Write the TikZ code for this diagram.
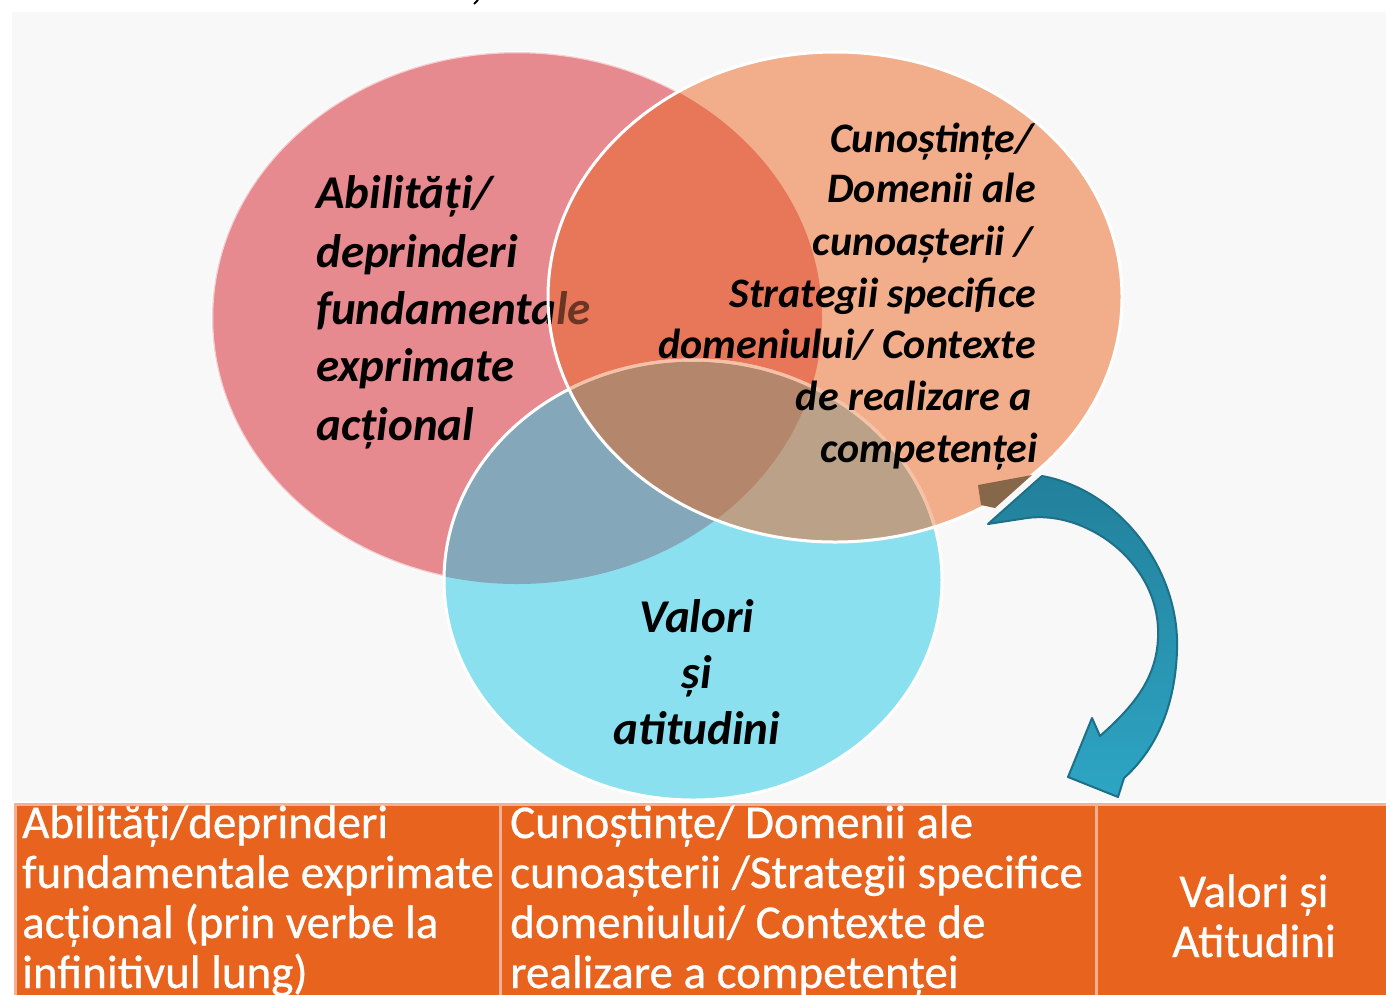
\documentclass[tikz,border=0pt]{standalone}
\usepackage{fontspec}
\setmainfont{Carlito}
\newfontfamily\tabfont{Carlito}[FakeBold=0.6]
\definecolor{bggray}{HTML}{F8F8F8}
\definecolor{pinkA}{HTML}{E78A8F}
\definecolor{orangeA}{HTML}{F2AE8B}
\definecolor{blueA}{HTML}{8BE0F0}
\definecolor{pinkOrange}{HTML}{E8775A}
\definecolor{pinkBlue}{HTML}{84A8BA}
\definecolor{orangeBlue}{HTML}{BBA187}
\definecolor{triple}{HTML}{B4866B}
\definecolor{brownTxt}{HTML}{6B3524}
\definecolor{arrowTop}{HTML}{22809B}
\definecolor{arrowBot}{HTML}{2EA5C4}
\definecolor{arrowLine}{HTML}{1D7088}
\definecolor{shadowBrown}{HTML}{86674A}
\definecolor{tableFill}{HTML}{E8641E}
\definecolor{tableLine}{HTML}{F3B095}
\tikzset{
  venbig/.style={inner sep=0pt, font=\fontsize{47}{57}\selectfont\bfseries\itshape},
  vensmall/.style={inner sep=0pt, font=\fontsize{42}{51}\selectfont\bfseries\itshape},
  tabtxt/.style={inner sep=0pt, text=white, font=\tabfont\fontsize{47}{50}\selectfont},
  cellbox/.style={fill=tableFill, draw=tableLine, line width=3.5pt},
}
\begin{document}
\begin{tikzpicture}[x=1pt,y=-1pt]
\useasboundingbox (0,0) rectangle (1386,994);
\fill[bggray] (12,12) rectangle (1386,801);
\draw[line width=2pt] (474,4) -- (478,0);
% ellipses
\def\pinkE{(517,318) ellipse [x radius=305pt, y radius=266pt]}
\def\orangeE{(835,297) ellipse [x radius=287pt, y radius=245pt]}
\def\blueE{(693,580) ellipse [x radius=249pt, y radius=220pt]}
\fill[pinkA] \pinkE;
\draw[white, opacity=0.6, line width=2.5pt] \pinkE;
\fill[blueA] \blueE;
\fill[orangeA] \orangeE;
\begin{scope}
  \clip \pinkE;
  \fill[pinkOrange] \orangeE;
  \fill[pinkBlue] \blueE;
\end{scope}
\begin{scope}
  \clip \orangeE;
  \fill[orangeBlue] \blueE;
  \clip \pinkE;
  \fill[triple] \blueE;
\end{scope}
% pink text
\node[venbig, anchor=base west] (p1) at (316,208) {Abilități/};
\node[venbig, anchor=base west] (p2) at (316,267) {deprinderi};
\node[venbig, anchor=base west] (p3) at (316,324) {fundamenta};
\node[venbig, anchor=base west, text=brownTxt] (p3b) at (556,324) {le};
\node[venbig, anchor=base west] (p4) at (316,381) {exprimate};
\node[venbig, anchor=base west] (p5) at (316,440) {acțional};
% borders
\draw[white, line width=3pt] \blueE;
\begin{scope}
  \clip \orangeE;
  \draw[orangeA, opacity=0.75, line width=3.2pt] \blueE;
\end{scope}
\draw[white, line width=3pt] \orangeE;
% orange text
\node[vensmall, anchor=base east] (o1) at (1034,152) {Cunoștințe/};
\node[vensmall, anchor=base east] (o2) at (1036,202) {Domenii ale};
\node[vensmall, anchor=base east] (o3) at (1033,255) {cunoașterii /};
\node[vensmall, anchor=base east] (o4) at (1036,307) {Strategii specifice};
\node[vensmall, anchor=base east] (o5) at (1036,358) {domeniului/ Contexte};
\node[vensmall, anchor=base east] (o6) at (1032,410) {de realizare a};
\node[vensmall, anchor=base east] (o7) at (1038,462) {competenței};
% blue text
\node[venbig, anchor=base] (b1) at (697,632) {Valori};
\node[venbig, anchor=base] (b2) at (697,688) {și};
\node[venbig, anchor=base] (b3) at (697,744) {atitudini};
% shadow piece and curved arrow
\fill[shadowBrown] (978,485) -- (1032,475) -- (995,508) -- (981,505) -- cycle;
\shadedraw[top color=arrowTop, bottom color=arrowBot, draw=arrowLine, line width=2pt, line join=round]
  (1042,476) .. controls (1120,490) and (1180,570) .. (1177,650)
  .. controls (1175,715) and (1150,755) .. (1124,778)
  -- (1118,797) -- (1068,777) -- (1092,718) -- (1100,736)
  .. controls (1135,705) and (1160,675) .. (1158,628)
  .. controls (1155,560) and (1085,510) .. (1027,518)
  -- (988,524) -- cycle;
% table
\node[cellbox, anchor=north west, minimum width=485pt, minimum height=200pt] (c1) at (13.75,802.75) {};
\node[cellbox, anchor=north west, minimum width=596pt, minimum height=200pt] (c2) at (498.75,802.75) {};
\node[cellbox, anchor=north west, minimum width=300pt, minimum height=200pt] (c3) at (1094.75,802.75) {};
\node[tabtxt, anchor=base west] (t11) at (22,838) {Abilități/deprinderi};
\node[tabtxt, anchor=base west] (t12) at (22,888) {fundamentale exprimate};
\node[tabtxt, anchor=base west] (t13) at (22,938) {acțional (prin verbe la};
\node[tabtxt, anchor=base west] (t14) at (22,988) {infinitivul lung)};
\node[tabtxt, anchor=base west] (t21) at (510,838) {Cunoștințe/ Domenii ale};
\node[tabtxt, anchor=base west] (t22) at (510,888) {cunoașterii /Strategii specifice};
\node[tabtxt, anchor=base west] (t23) at (510,938) {domeniului/ Contexte de};
\node[tabtxt, anchor=base west] (t24) at (510,988) {realizare a competenței};
\node[tabtxt, anchor=base] (t31) at (1254,907) {Valori și};
\node[tabtxt, anchor=base] (t32) at (1254,957) {Atitudini};
\end{tikzpicture}
\end{document}
